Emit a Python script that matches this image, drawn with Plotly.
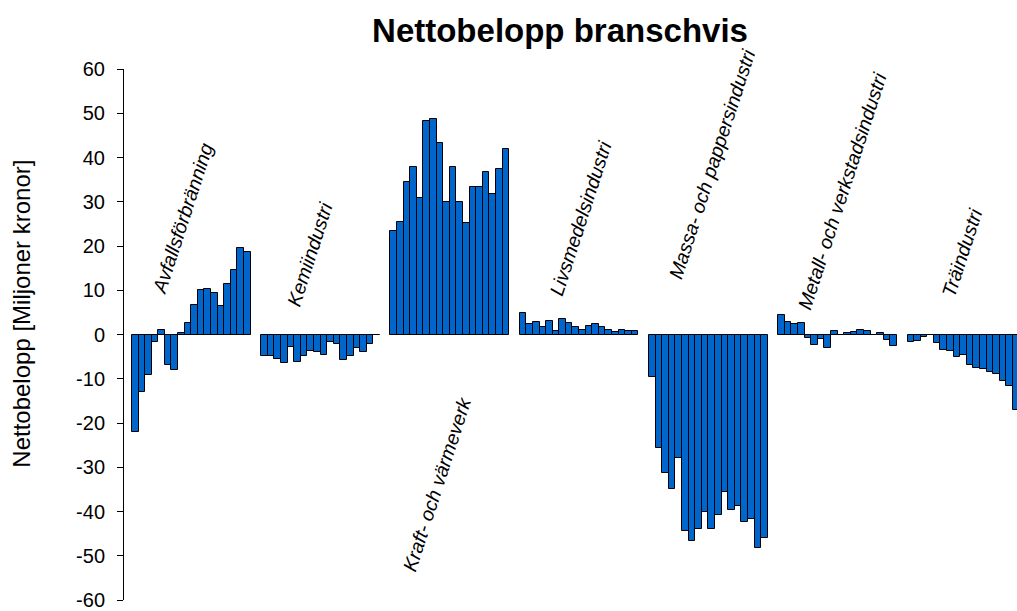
import plotly.graph_objects as go

# ---- data ----
branscher = ["Avfallsförbränning", "Kemiindustri", "Kraft- och värmeverk",
             "Livsmedelsindustri", "Massa- och pappersindustri",
             "Metall- och verkstadsindustri", "Träindustri"]

avfall = [-22, -13, -9.1, -1.8, 1.1, -6.9, -8.1, 0.3, 2.6, 6.7, 10, 10.2, 9.3, 6.4, 11.4, 14.6, 19.5, 18.6]
kemi = [-4.8, -4.8, -5.5, -6.4, -2.8, -6.3, -4.8, -3.7, -4.0, -4.6, -1.7, -2.2, -5.8, -4.9, -3.1, -3.9, -2.1, 0]
kraft = [23.3, 25.4, 34.4, 37.8, 30.8, 48.2, 48.7, 43.2, 29.9, 37.9, 30.0, 25.3, 33.3, 33.4, 36.8, 31.8, 37.4, 41.9]
livsmedel = [4.8, 2.3, 2.8, 1.7, 3.0, 0.8, 3.4, 2.5, 1.8, 1.1, 1.9, 2.4, 1.8, 1.1, 0.6, 1.0, 0.8, 0.7]
massa = [-9.6, -25.6, -31.2, -34.9, -28.0, -44.4, -46.6, -43.9, -40.0, -43.9, -40.7, -35.5, -39.7, -38.8, -42.4, -41.7, -48.2, -46.0]
metall = [4.4, 2.9, 2.4, 2.6, -0.7, -2.4, -1.1, -3.0, 0.7, -0.2, 0.4, 0.5, 1.1, 0.9, -0.1, 0.4, -1.3, -2.7]
tra = [-1.7, -1.5, -0.6, 0, -2.0, -3.6, -3.7, -5.1, -4.7, -7.0, -7.6, -7.8, -8.4, -8.9, -10.5, -11.6, -17.1]

serier = [avfall, kemi, kraft, livsmedel, massa, metall, tra]
y_ticks = [-60, -50, -40, -30, -20, -10, 0, 10, 20, 30, 40, 50, 60]

# ---- layout constants ----
W, H = 1017, 611
L, R, T, B = 124, 0, 69, 6
group_pitch = 19.6
x_min, x_max = -1.2, 134.2

xs, ys = [], []
for g, vals in enumerate(serier):
    for i, v in enumerate(vals):
        xs.append(g * group_pitch + i + 0.5)
        ys.append(v)

fig = go.Figure(go.Bar(
    x=xs, y=ys, width=1,
    marker=dict(color="#0066CC", line=dict(color="black", width=1)),
    hoverinfo="y",
))

pw = W - L - R
ph = H - T - B


def px(xp):  # pixel -> paper x
    return (xp - L) / pw


def py(yp):  # pixel -> paper y
    return (H - B - yp) / ph


FONT = "Liberation Sans, Arial"

# label centres in pixels
label_pos = [(182, 220), (310, 256), (437, 488), (580, 220), (712, 165), (842, 192), (962, 255)]
annotations = []
for name, (lx, ly) in zip(branscher, label_pos):
    annotations.append(dict(
        text=name, x=px(lx), y=py(ly), xref="paper", yref="paper",
        showarrow=False, textangle=-72, xanchor="center", yanchor="middle",
        font=dict(family=FONT, size=19.5, color="black", style="italic"),
    ))

annotations.append(dict(
    text="Nettobelopp [Miljoner kronor]", x=px(22), y=py(316), xref="paper", yref="paper",
    showarrow=False, textangle=-90, xanchor="center", yanchor="middle",
    font=dict(family=FONT, size=24, color="black"),
))

fig.update_layout(
    width=W, height=H,
    margin=dict(l=L, r=R, t=T, b=B, pad=0),
    paper_bgcolor="white", plot_bgcolor="white",
    bargap=0, showlegend=False,
    title=dict(text="<b>Nettobelopp branschvis</b>", xref="paper", x=px(560), xanchor="center",
               yref="container", y=1 - 30 / H, yanchor="middle",
               font=dict(family=FONT, size=33, color="black")),
    font=dict(family=FONT, color="black"),
    annotations=annotations,
    xaxis=dict(range=[x_min, x_max], visible=False, showgrid=False, zeroline=False),
    yaxis=dict(range=[-60, 60], tickvals=y_ticks, ticktext=[str(t) for t in y_ticks],
               showline=True, linecolor="black", linewidth=1,
               ticks="outside", ticklen=6, tickcolor="black", tickwidth=1,
               showgrid=False, zeroline=False, ticklabelstandoff=8,
               ticklabeloverflow="allow",
               tickfont=dict(family=FONT, size=20, color="black")),
)

fig.write_html(
    "out.html",
    config={"displayModeBar": False},
    post_script="document.body.style.margin='0';document.body.style.overflow='hidden';",
)
